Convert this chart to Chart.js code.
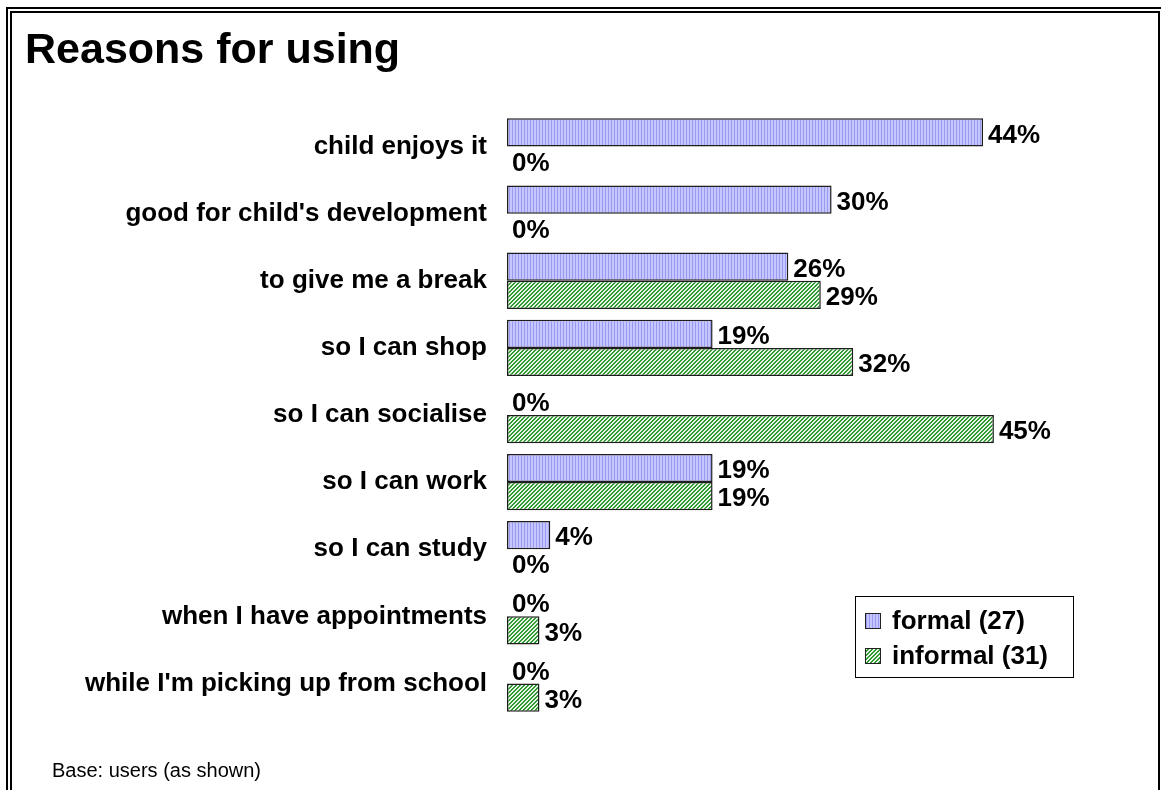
<!DOCTYPE html>
<html>
<head>
<meta charset="utf-8">
<title>Reasons for using</title>
<script src="https://cdn.jsdelivr.net/npm/chart.js@4/dist/chart.umd.min.js"></script>
<style>
  html, body { margin: 0; padding: 0; background: #fff; overflow: hidden; }
  #pagina { position: relative; width: 1161px; height: 790px; overflow: hidden; }
  .moldura { position: absolute; border: 2px solid #000; box-sizing: border-box; }
  #moldura-externa { left: 6px; top: 7px; width: 1300px; height: 1000px; }
  #moldura-interna { left: 10px; top: 11px; width: 1150px; height: 1000px; }
  #grafico { position: absolute; left: 0; top: 0; }
</style>
</head>
<body>
<div id="pagina">
  <div class="moldura" id="moldura-externa"></div>
  <div class="moldura" id="moldura-interna"></div>
  <canvas id="grafico" width="1161" height="790"></canvas>
</div>
<script>
// Dados do gráfico
const categorias = [
    'child enjoys it',
    "good for child's development",
    'to give me a break',
    'so I can shop',
    'so I can socialise',
    'so I can work',
    'so I can study',
    'when I have appointments',
    "while I'm picking up from school"
];
const valoresFormal = [44, 30, 26, 19, 0, 19, 4, 0, 0];
const valoresInformal = [0, 0, 29, 32, 45, 19, 0, 3, 3];
const rotulosSeries = ['formal (27)', 'informal (31)'];

const tituloTexto = 'Reasons for using';
const notaRodape = 'Base: users (as shown)';

const fonteBase = '"Liberation Sans", Arial, sans-serif';

// Hachura vertical lilás (formal)
function padraoFormal() {
    const c = document.createElement('canvas');
    c.width = 3; c.height = 1;
    const g = c.getContext('2d');
    g.fillStyle = '#c6c6ff';
    g.fillRect(0, 0, 3, 1);
    g.fillStyle = '#9a9af2';
    g.fillRect(2, 0, 1, 1);
    return g.createPattern(c, 'repeat');
}

// Hachura diagonal verde (informal)
function padraoInformal() {
    const c = document.createElement('canvas');
    c.width = 4; c.height = 4;
    const g = c.getContext('2d');
    g.fillStyle = '#e6f6e6';
    g.fillRect(0, 0, 4, 4);
    g.fillStyle = '#339933';
    for (let y = 0; y < 4; y++) {
        for (let x = 0; x < 4; x++) {
            const k = (x + y) % 4;
            if (k === 0 || k === 1) g.fillRect(x, y, 1, 1);
        }
    }
    return g.createPattern(c, 'repeat');
}

const corFormal = padraoFormal();
const corInformal = padraoInformal();

// Rótulos de valor à direita de cada barra
const pluginRotulos = {
    id: 'rotulosValor',
    afterDatasetsDraw(chart) {
        const ctx = chart.ctx;
        ctx.save();
        ctx.font = 'bold 26px ' + fonteBase;
        ctx.fillStyle = '#000';
        ctx.textAlign = 'left';
        ctx.textBaseline = 'middle';
        chart.data.datasets.forEach((ds, i) => {
            chart.getDatasetMeta(i).data.forEach((barra, j) => {
                ctx.fillText(ds.data[j] + '%', barra.x + 5, barra.y + 3);
            });
        });
        ctx.restore();
    }
};

// Título, legenda em caixa e nota de rodapé
const pluginMoldura = {
    id: 'moldura',
    afterDraw(chart) {
        const ctx = chart.ctx;
        ctx.save();
        ctx.fillStyle = '#000';
        ctx.textAlign = 'left';
        ctx.textBaseline = 'alphabetic';
        ctx.font = 'bold 43px ' + fonteBase;
        ctx.fillText(tituloTexto, 25, 63);

        ctx.font = '20px ' + fonteBase;
        ctx.textBaseline = 'middle';
        ctx.fillText(notaRodape, 52, 771);

        // legenda
        const lx = 855, ly = 596, lw = 218, lh = 81;
        ctx.fillStyle = '#fff';
        ctx.fillRect(lx, ly, lw, lh);
        ctx.strokeStyle = '#000';
        ctx.lineWidth = 1;
        ctx.strokeRect(lx + 0.5, ly + 0.5, lw, lh);

        const linhas = [
            { texto: rotulosSeries[0], cor: corFormal, y: 621 },
            { texto: rotulosSeries[1], cor: corInformal, y: 656 }
        ];
        ctx.font = 'bold 26px ' + fonteBase;
        linhas.forEach(l => {
            ctx.fillStyle = l.cor;
            ctx.fillRect(865, l.y - 8, 16, 16);
            ctx.strokeStyle = '#222';
            ctx.strokeRect(865.5, l.y - 7.5, 15, 15);
            ctx.fillStyle = '#000';
            ctx.fillText(l.texto, 892, l.y + 1);
        });
        ctx.restore();
    }
};

const ctx = document.getElementById('grafico').getContext('2d');
const grafico = new Chart(ctx, {
    type: 'bar',
    data: {
        labels: categorias,
        datasets: [
            {
                label: rotulosSeries[0],
                data: valoresFormal,
                backgroundColor: corFormal,
                borderColor: '#1e1e1e',
                borderWidth: 1.5,
                borderSkipped: false
            },
            {
                label: rotulosSeries[1],
                data: valoresInformal,
                backgroundColor: corInformal,
                borderColor: '#1e1e1e',
                borderWidth: 1.5,
                borderSkipped: false
            }
        ]
    },
    options: {
        indexAxis: 'y',
        responsive: false,
        animation: false,
        categoryPercentage: 0.84,
        barPercentage: 1.0,
        layout: { padding: { left: 0, top: 113, right: 113, bottom: 73 } },
        plugins: {
            legend: { display: false },
            title: { display: false },
            tooltip: { enabled: false }
        },
        scales: {
            x: {
                display: false,
                min: 0,
                max: 50
            },
            y: {
                grid: { display: false, drawTicks: false },
                border: { display: false },
                afterFit(escala) { escala.width = 507; },
                ticks: {
                    autoSkip: false,
                    padding: 20,
                    color: '#000',
                    font: { family: fonteBase, size: 26, weight: 'bold' }
                }
            }
        }
    },
    plugins: [pluginRotulos, pluginMoldura]
});
</script>
</body>
</html>
